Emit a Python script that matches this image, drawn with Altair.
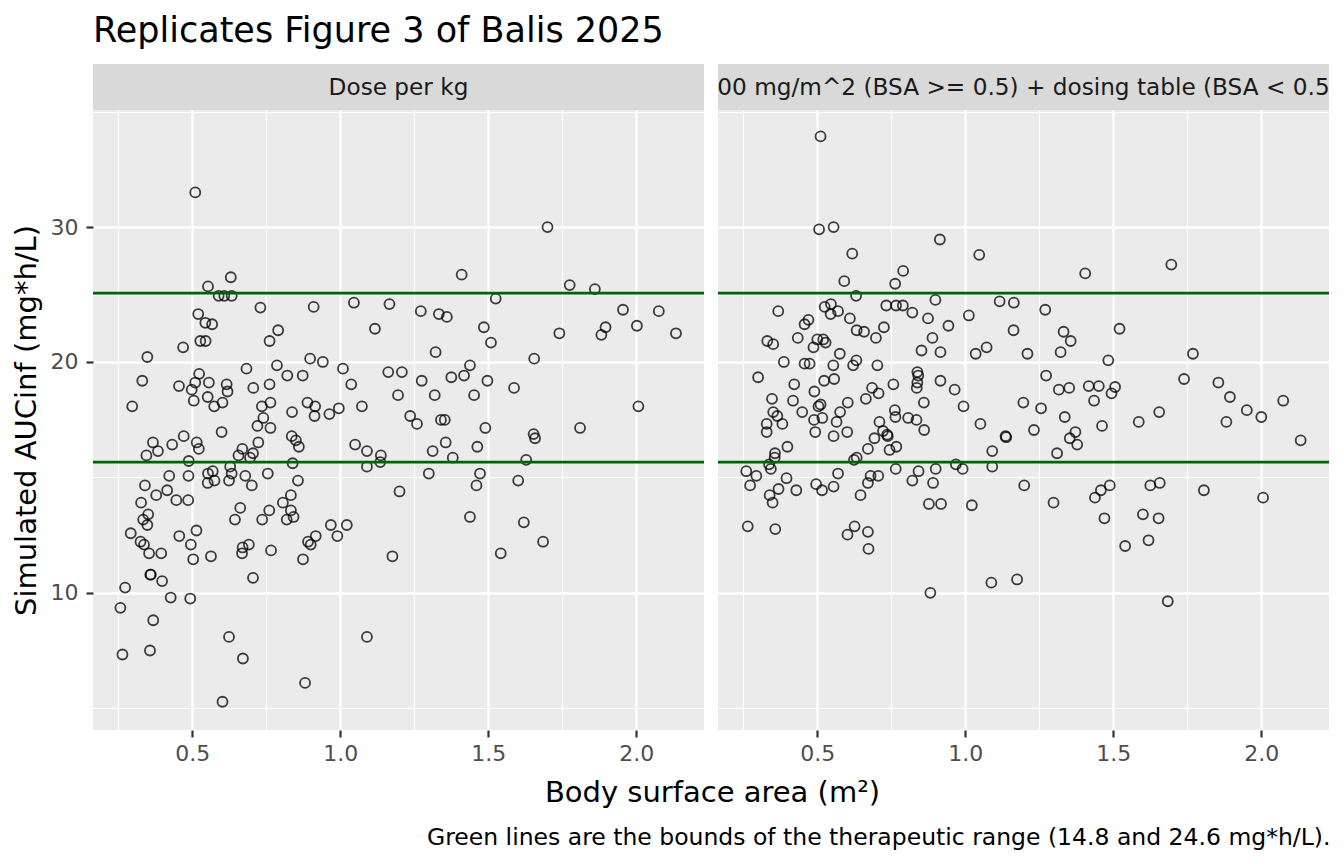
import altair as alt
import pandas as pd

# ---------------- data ----------------
panel_names = ["Dose per kg", "00 mg/m^2 (BSA >= 0.5) + dosing table (BSA < 0.5"]
therapeutic_bounds = [14.8, 24.6]
x_major = [0.5, 1.0, 1.5, 2.0]
x_minor = [0.25, 0.75, 1.25, 1.75]
y_major = [10, 20, 30]
y_minor = [7.071, 14.142, 24.495, 42.426]

left_bsa = [
    0.51, 0.63, 0.553, 0.589, 0.608, 0.633, 0.73, 0.91, 1.046, 1.166,
    0.52, 0.544, 0.567, 0.79, 0.761, 1.117, 0.527, 0.545, 0.469, 0.348,
    0.898, 0.941, 1.009, 1.162, 1.208, 0.683, 0.786, 0.523, 0.331, 0.455,
    0.498, 0.51, 0.556, 0.552, 0.505, 0.574, 0.602, 0.616, 0.619, 0.706,
    0.761, 0.821, 0.873, 1.037, 1.195, 0.297, 0.735, 0.74, 0.764, 0.837,
    0.889, 0.915, 0.913, 0.963, 0.995, 1.073,
    0.72, 0.764, 0.599, 0.471, 0.515, 0.367, 0.432, 0.384, 0.345, 0.522,
    0.488, 0.723, 0.669, 0.656, 0.705, 0.695, 0.836, 0.85, 0.86, 0.839,
    1.05, 1.09, 1.137, 1.135, 1.09, 1.2, 0.628, 0.633, 0.553, 0.569,
    0.487, 0.422, 0.679, 0.755, 0.552, 0.575, 0.624, 0.701, 0.857, 0.34,
    0.378, 0.415, 0.446, 0.486, 0.327, 0.833, 0.806, 0.662, 0.76, 0.833,
    0.819, 0.842, 0.736, 0.644, 0.351, 0.334, 0.348, 0.292, 0.514, 0.456,
    0.325, 0.337, 0.495, 0.354, 0.395, 0.503, 0.563, 0.67, 0.668, 0.691,
    0.766, 0.891, 0.9, 0.917, 0.874, 0.968, 1.022, 0.99, 1.176, 0.358,
    0.36, 0.398, 0.705, 0.273, 0.257, 0.427, 0.493, 0.368, 0.624, 1.09,
    0.264, 0.357, 0.671, 0.881, 0.602,
    1.70, 1.41, 1.775, 1.86, 1.525, 1.272, 1.333, 1.36, 1.485, 1.509,
    1.955, 2.076, 2.002, 1.896, 1.882, 1.74, 2.134, 1.322, 1.655, 1.438,
    1.418, 1.375, 1.275, 1.497, 1.587, 1.319, 1.452, 2.007, 1.236, 1.259,
    1.34, 1.353, 1.49, 1.81, 1.653, 1.658, 1.356, 1.312, 1.463, 1.38,
    1.628, 1.299, 1.472, 1.601, 1.46, 1.438, 1.62, 1.685, 1.542,
]
left_auc = [
    33.3, 25.8, 25.1, 24.4, 24.4, 24.4, 23.55, 23.6, 23.9, 23.8,
    23.1, 22.5, 22.4, 22.0, 21.3, 22.1, 21.3, 21.3, 20.9, 20.3,
    20.2, 20.0, 19.6, 19.4, 19.4, 19.6, 19.8, 19.3, 18.9, 18.6,
    18.4, 18.8, 18.8, 18.0, 17.8, 17.5, 17.7, 18.7, 18.3, 18.5,
    18.7, 19.2, 19.2, 18.7, 18.1, 17.5, 17.5, 16.9, 17.7, 17.2,
    17.7, 17.5, 17.0, 17.1, 17.4, 17.5,
    16.5, 16.4, 16.2, 16.0, 15.7, 15.7, 15.6, 15.3, 15.1, 15.4,
    14.85, 15.7, 15.4, 15.1, 15.2, 15.0, 16.0, 15.8, 15.5, 14.75,
    15.6, 15.3, 15.1, 14.8, 14.6, 13.55, 14.6, 14.3, 14.3, 14.4,
    14.2, 14.2, 14.2, 14.3, 13.9, 14.0, 14.0, 13.8, 14.0, 13.8,
    13.4, 13.6, 13.2, 13.2, 13.1, 13.4, 13.1, 12.9, 12.8, 12.8,
    12.45, 12.55, 12.45, 12.45, 12.65, 12.45, 12.25, 11.95, 12.05, 11.85,
    11.65, 11.55, 11.55, 11.25, 11.25, 11.05, 11.15, 11.45, 11.25, 11.55,
    11.35, 11.65, 11.55, 11.85, 11.05, 12.25, 12.25, 11.85, 11.15, 10.55,
    10.55, 10.35, 10.45, 10.15, 9.55, 9.85, 9.82, 9.2, 8.75, 8.75,
    8.3, 8.4, 8.2, 7.62, 7.2,
    30.0, 26.0, 25.2, 24.9, 24.2, 23.3, 23.1, 22.9, 22.2, 21.2,
    23.4, 23.3, 22.3, 22.2, 21.7, 21.8, 21.8, 20.6, 20.2, 19.8,
    19.2, 19.1, 18.9, 18.9, 18.5, 18.1, 18.1, 17.5, 17.0, 16.6,
    16.8, 16.8, 16.4, 16.4, 16.1, 15.9, 15.7, 15.3, 15.5, 15.0,
    14.9, 14.3, 14.3, 14.0, 13.8, 12.55, 12.35, 11.65, 11.25,
]

right_bsa = [
    0.511, 0.506, 0.555, 0.914, 0.618, 1.047, 0.79, 0.763, 0.591, 0.631,
    0.368, 0.525, 0.546, 0.545, 0.57, 0.733, 0.766, 0.789, 0.821, 0.899,
    1.116, 1.164, 1.012, 0.874, 0.943, 1.163, 0.47, 0.457, 0.61, 0.633,
    0.658, 0.725, 0.698, 0.889, 0.434, 0.331, 0.351, 0.5, 0.52, 0.528,
    0.487, 0.576, 0.852, 0.916, 1.035, 1.072, 1.21, 0.387, 0.457, 0.474,
    0.554, 0.621, 0.632, 0.703, 0.3, 0.422, 0.523, 0.557, 0.838, 0.841,
    0.838, 0.836, 0.916, 0.964, 0.757, 0.685, 0.707, 0.49, 0.347, 0.418,
    0.504, 0.511, 0.603, 0.664, 0.86, 0.994, 1.196, 0.351, 0.365, 0.449,
    0.577, 0.762, 0.489, 0.517, 0.565, 0.71, 0.764, 0.807, 0.835, 1.051,
    0.329, 0.329, 0.382, 0.493, 0.555, 0.601, 0.722, 0.736, 0.738, 0.693,
    0.671, 0.744, 0.767, 0.861, 1.136, 1.138, 1.091, 1.091, 1.199, 0.399,
    0.357, 0.356, 0.337, 0.343, 0.26, 0.294, 0.273, 0.396, 0.339, 0.349,
    0.369, 0.429, 0.496, 0.516, 0.555, 0.57, 0.624, 0.633, 0.68, 0.706,
    0.671, 0.646, 0.765, 0.842, 0.821, 0.891, 0.9, 0.968, 0.991, 0.877,
    0.918, 1.022, 0.265, 0.358, 0.602, 0.626, 0.671, 0.673, 0.882, 1.088, 1.175,
    1.405, 1.696, 1.27, 1.332, 1.356, 1.521, 1.322, 1.483, 1.769, 1.273,
    1.316, 1.351, 1.417, 1.451, 1.506, 1.494, 1.435, 1.739, 1.855, 1.894,
    1.951, 2.0, 2.074, 1.256, 1.336, 1.655, 1.586, 1.882, 1.232, 1.462,
    2.133, 1.372, 1.353, 1.378, 1.31, 1.298, 1.438, 1.458, 1.488, 1.47,
    1.625, 1.657, 1.6, 1.653, 1.54, 1.619, 1.806, 2.006, 1.684,
]
right_auc = [
    39.4, 29.8, 30.0, 28.9, 27.7, 27.6, 26.3, 25.3, 25.5, 24.4,
    23.3, 23.6, 23.8, 23.1, 23.3, 23.7, 23.7, 23.7, 23.2, 24.1,
    24.0, 23.9, 23.0, 22.8, 22.3, 22.0, 22.7, 22.4, 22.8, 22.0,
    21.9, 22.2, 21.5, 21.5, 21.5, 21.3, 21.1, 21.4, 21.4, 21.2,
    20.9, 20.5, 20.7, 20.6, 20.5, 20.9, 20.5, 20.0, 19.9, 19.9,
    19.8, 19.8, 20.1, 19.8, 19.1, 18.7, 18.9, 19.0, 19.4, 19.2,
    18.8, 18.5, 18.9, 18.4, 18.7, 18.5, 18.2, 18.3, 17.9, 17.8,
    17.5, 17.6, 17.7, 17.9, 17.7, 17.5, 17.7, 17.2, 17.0, 17.2,
    17.2, 17.3, 16.8, 16.9, 16.7, 16.7, 16.95, 16.9, 16.8, 16.6,
    16.6, 16.2, 16.6, 16.2, 16.0, 16.2, 16.25, 16.07, 16.0, 15.9,
    15.4, 15.35, 15.5, 16.3, 16.0, 15.95, 15.3, 14.6, 13.8, 15.5,
    15.2, 15.0, 14.7, 14.5, 14.4, 14.2, 13.8, 14.1, 13.4, 13.1,
    13.65, 13.6, 13.85, 13.6, 13.75, 14.3, 14.9, 15.0, 14.2, 14.2,
    13.9, 13.4, 14.5, 14.4, 14.0, 13.9, 14.5, 14.7, 14.5, 13.05,
    13.05, 13.0, 12.2, 12.1, 11.9, 12.2, 12.0, 11.4, 9.99, 10.3, 10.4,
    26.1, 26.8, 23.4, 21.9, 21.3, 22.1, 20.6, 20.1, 20.5, 19.2,
    18.4, 18.5, 18.6, 18.6, 18.55, 18.2, 17.8, 19.0, 18.8, 18.0,
    17.3, 16.95, 17.8, 17.4, 16.95, 17.2, 16.7, 16.7, 16.3, 16.5,
    15.8, 16.2, 15.9, 15.6, 15.2, 13.1, 13.3, 13.6, 13.8, 12.5,
    13.8, 13.9, 12.65, 12.5, 11.5, 11.7, 13.6, 13.3, 9.74,
]

# ---------------- styling ----------------
FONT = "DejaVu Sans"
W, H = 611, 620
STRIP_H = 46

x_scale = alt.Scale(domain=[0.1645, 2.2287], nice=False, zero=False)
y_scale = alt.Scale(type="log", domain=[6.614, 42.66], nice=False)

x_major_test = " || ".join(f"datum.value == {v}" for v in x_major)
y_major_test = " || ".join(f"datum.value == {v}" for v in y_major)

common_axis = dict(
    domain=False,
    gridColor="white",
    labelFont=FONT,
    labelFontSize=22,
    labelColor="#4D4D4D",
    labelOverlap=False,
    tickSize=7,
    tickWidth=2.2,
    titleFont=FONT,
    titleFontWeight="normal",
    titleColor="black",
)


def x_axis(title, title_size, title_x, title_y, title_align):
    return alt.Axis(
        values=sorted(x_major + x_minor),
        labelExpr=f"({x_major_test}) ? format(datum.value, '.1f') : ''",
        gridWidth={"condition": {"test": x_major_test, "value": 2.3}, "value": 1.1},
        tickColor={"condition": {"test": x_major_test, "value": "#333333"}, "value": "rgba(0,0,0,0)"},
        labelPadding=6,
        title=title,
        titleFontSize=title_size,
        titleX=title_x,
        titleY=title_y,
        titleAlign=title_align,
        titleBaseline="middle",
        **common_axis,
    )


y_axis_left = alt.Axis(
    values=sorted(y_major + y_minor),
    labelExpr=f"({y_major_test}) ? format(datum.value, '.0f') : ''",
    gridWidth={"condition": {"test": y_major_test, "value": 2.3}, "value": 1.1},
    tickColor={"condition": {"test": y_major_test, "value": "#333333"}, "value": "rgba(0,0,0,0)"},
    labelPadding=8,
    title="Simulated AUCinf (mg*h/L)",
    titleFontSize=29,
    titleX=-67,
    titleY=H / 2,
    titleAngle=270,
    titleAlign="center",
    titleBaseline="middle",
    **common_axis,
)

y_axis_right = alt.Axis(
    values=sorted(y_major + y_minor),
    labels=False,
    ticks=False,
    domain=False,
    title=None,
    gridColor="white",
    gridWidth={"condition": {"test": y_major_test, "value": 2.3}, "value": 1.1},
)


def panel(bsa, auc, xaxis, yaxis):
    df = pd.DataFrame({"bsa": bsa, "auc": auc})
    pts = alt.Chart(df).mark_point(
        shape="circle", filled=False, size=100, color="black", opacity=0.75, strokeWidth=1.8
    ).encode(
        x=alt.X("bsa:Q", scale=x_scale, axis=xaxis),
        y=alt.Y("auc:Q", scale=y_scale, axis=yaxis),
    )
    rules = alt.Chart(pd.DataFrame({"auc": therapeutic_bounds})).mark_rule(
        color="#006400", strokeWidth=2.6
    ).encode(y=alt.Y("auc:Q", scale=y_scale, axis=yaxis))
    return alt.layer(pts, rules).properties(
        width=W, height=H, view=alt.ViewBackground(fill="#EBEBEB", strokeWidth=0)
    )


def strip(name):
    return alt.Chart(pd.DataFrame({"label": [name]})).mark_text(
        font=FONT, fontSize=23.2, color="#1A1A1A", align="center", baseline="middle", clip=True
    ).encode(
        text="label:N", x=alt.value(W / 2), y=alt.value(STRIP_H / 2 + 1)
    ).properties(
        width=W, height=STRIP_H, view=alt.ViewBackground(fill="#D9D9D9", strokeWidth=0)
    )


left_panel = panel(
    left_bsa, left_auc,
    x_axis("Body surface area (m²)", 29, 619, 62, "center"),
    y_axis_left,
)
right_panel = panel(
    right_bsa, right_auc,
    x_axis("Green lines are the bounds of the therapeutic range (14.8 and 24.6 mg*h/L).",
           23.5, W + 1, 107, "right"),
    y_axis_right,
)

chart = alt.concat(
    strip(panel_names[0]), strip(panel_names[1]),
    left_panel, right_panel,
    columns=2,
    spacing={"row": 0, "column": 14},
    bounds="flush",
).properties(
    title=alt.TitleParams(
        "Replicates Figure 3 of Balis 2025",
        anchor="start",
        frame="group",
        font=FONT,
        fontSize=35,
        fontWeight="normal",
        color="black",
        baseline="alphabetic",
        offset=-13,
    ),
    padding={"left": 4, "top": 6, "right": 5, "bottom": 5},
    background="white",
).configure_view(strokeWidth=0)

chart.save("out.html", embed_options={"renderer": "svg", "actions": False})
